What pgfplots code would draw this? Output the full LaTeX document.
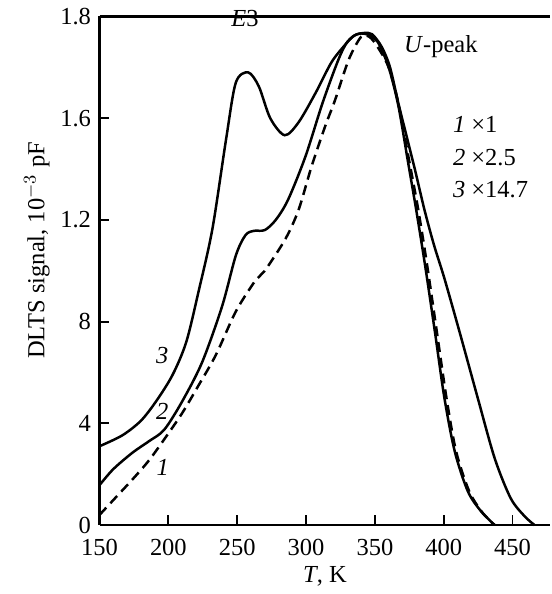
\documentclass[border=0pt]{standalone}
\usepackage{fontspec}
\setmainfont{Liberation Serif}
\usepackage{pgfplots}
\pgfplotsset{compat=1.18}

\begin{document}
\fontsize{12.3}{14.8}\selectfont
\begin{tikzpicture}
\begin{axis}[
  scale only axis,
  width=226.5pt, height=255.5pt,
  xmin=150, xmax=477.5, ymin=0, ymax=2.0,
  axis x line=box, axis y line=left,
  axis line style={-, line width=1.4pt},
  tick pos=left, tick align=inside,
  major tick length=5pt,
  tick style={line width=0.9pt, black},
  /pgf/number format/assume math mode=true,
  xtick={150,200,250,300,350,400,450},
  xticklabels={150,200,250,300,350,400,450},
  x tick label style={yshift=-3pt},
  ytick={0,0.4,0.8,1.2,1.6,2.0},
  yticklabels={0,4,8,1.2,1.6,1.8},
  xlabel={\textit{T}, K},
  ylabel={DLTS signal, 10$^{-3}$ pF},
  xlabel style={at={(axis description cs:0.5,-0.1)}, anchor=center},
  ylabel style={at={(axis description cs:-0.139,0.54)}, anchor=center},
  clip=false,
]
% curve 3 (x14.7)
\addplot[black, line width=1.25pt, smooth, tension=0.5] coordinates {
  (150,0.31) (166.6,0.353) (180,0.41) (191,0.486) (203,0.59) (213,0.72)
  (222,0.92) (232,1.165) (242,1.52) (249,1.74) (258,1.78) (265.7,1.725)
  (274,1.60) (284.5,1.533) (294.6,1.584) (307,1.70) (318.5,1.82)
  (328.6,1.89) (335,1.925) (342,1.935) (348,1.93) (355,1.88) (361,1.80)
  (367,1.66) (373,1.53) (379,1.40) (386,1.24) (393,1.10) (400.5,0.97)
  (412,0.75) (424.7,0.50) (437,0.263) (448.6,0.106) (458.7,0.035) (466,0)
};
% curve 2 (x2.5)
\addplot[black, line width=1.25pt, smooth, tension=0.5] coordinates {
  (150,0.157) (160,0.22) (174,0.285) (186,0.33) (197,0.375) (210,0.486)
  (224.5,0.64) (239,0.86) (249,1.06) (256,1.14) (262,1.157) (270,1.16)
  (278,1.20) (287,1.28) (299.6,1.45) (312,1.66) (323.5,1.83) (330,1.90)
  (337,1.93) (344,1.93) (352,1.90) (360,1.80) (367,1.65) (374,1.43)
  (380,1.24) (386.5,1.02) (393.6,0.76) (400.5,0.50) (408,0.29)
  (417.5,0.133) (427,0.055) (437,0)
};
% curve 1 (x1)
\addplot[black, line width=1.25pt, smooth, tension=0.5,
  dash pattern=on 5pt off 3pt] coordinates {
  (150,0.04) (162,0.11) (174,0.18) (186,0.255) (198,0.345) (210,0.44)
  (222,0.55) (234.6,0.67) (249,0.84) (263,0.96) (270,1.00) (285,1.125)
  (294.6,1.24) (304,1.41) (314,1.57) (321,1.67) (331,1.83) (340,1.92)
  (346,1.92) (352,1.88) (360,1.80) (367,1.66) (375,1.43) (381.5,1.24)
  (388,1.02) (395,0.76) (402,0.50) (409,0.29) (418.5,0.133) (428,0.05)
  (437,0)
};
\node at (axis cs:255.6,1.99) {\textit{E}3};
\node[anchor=west, inner sep=0pt] at (axis cs:371,1.88) {\textit{U}-peak};
\node[anchor=west, inner sep=0pt] at (axis cs:406.5,1.576) {\textit{1} ×1};
\node[anchor=west, inner sep=0pt] at (axis cs:406.5,1.447) {\textit{2} ×2.5};
\node[anchor=west, inner sep=0pt] at (axis cs:406.5,1.318) {\textit{3} ×14.7};
\node at (axis cs:195.5,0.667) {\textit{3}};
\node at (axis cs:195.5,0.447) {\textit{2}};
\node at (axis cs:196,0.228) {\textit{1}};
\path (rel axis cs:0,0) ++(-50pt,-33.5pt) (rel axis cs:1,1) ++(0,4.5pt);
\end{axis}
\end{tikzpicture}
\end{document}
